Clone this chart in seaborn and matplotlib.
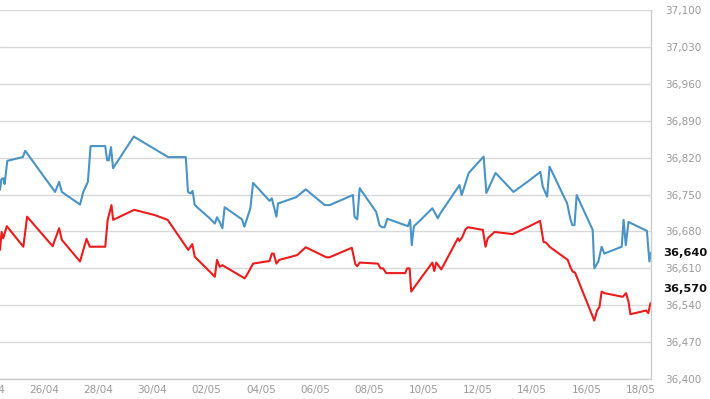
import pandas as pd
import matplotlib
matplotlib.use("Agg")
import matplotlib.pyplot as plt
import matplotlib.dates as mdates
from matplotlib.ticker import FuncFormatter
import seaborn as sns

# Data: time as days after 24/04 00:00, price values
blue_days = [0.38, 0.43, 0.50, 0.55, 0.65, 1.22, 1.31, 2.41, 2.56, 2.66, 3.33, 3.45, 3.62, 3.72,
             4.26, 4.33, 4.39, 4.47, 4.55, 5.31, 6.58, 7.23, 7.31, 7.41, 7.48, 7.56, 8.11, 8.30,
             8.38, 8.48, 8.58, 8.66, 9.30, 9.39, 9.61, 9.71, 10.32, 10.40, 10.57, 10.63, 11.30,
             11.65, 12.35, 12.53, 13.39, 13.45, 13.55, 13.64, 14.25, 14.37, 14.46, 14.56, 14.66,
             15.42, 15.50, 15.56, 15.64, 15.85, 16.32, 16.52, 16.61, 17.32, 17.40, 17.66, 18.21,
             18.31, 18.65, 19.31, 19.90, 20.30, 20.39, 20.55, 20.64, 21.29, 21.41, 21.48, 21.56,
             21.64, 22.23, 22.29, 22.44, 22.56, 22.66, 23.30, 23.37, 23.45, 23.55, 24.23, 24.32,
             24.38]
blue_vals = [36759, 36779, 36781, 36770, 36814, 36821, 36833, 36755, 36774, 36755, 36731, 36755,
             36774, 36842, 36842, 36815, 36815, 36840, 36800, 36860, 36821, 36821, 36755, 36752,
             36757, 36730, 36705, 36695, 36707, 36698, 36686, 36726, 36703, 36689, 36724, 36772,
             36738, 36743, 36708, 36733, 36745, 36760, 36730, 36730, 36749, 36708, 36703, 36762,
             36717, 36692, 36688, 36688, 36704, 36690, 36702, 36654, 36690, 36700, 36724, 36705,
             36714, 36768, 36749, 36791, 36822, 36753, 36791, 36755, 36777, 36793, 36765, 36746,
             36803, 36733, 36703, 36692, 36692, 36749, 36683, 36610, 36623, 36651, 36638, 36651,
             36702, 36654, 36698, 36681, 36623, 36640]

red_days = [0.38, 0.44, 0.50, 0.63, 1.24, 1.38, 2.32, 2.56, 2.66, 3.33, 3.57, 3.69, 4.26, 4.35,
            4.49, 4.55, 5.33, 6.09, 6.56, 7.32, 7.47, 7.56, 8.11, 8.30, 8.38, 8.48, 8.58, 9.40,
            9.52, 9.71, 10.32, 10.40, 10.47, 10.57, 10.67, 11.33, 11.65, 12.41, 12.53, 13.35,
            13.48, 13.55, 13.64, 14.31, 14.41, 14.50, 14.62, 15.32, 15.39, 15.48, 15.54, 15.85,
            16.32, 16.39, 16.46, 16.65, 17.26, 17.32, 17.42, 17.54, 17.63, 18.18, 18.28, 18.36,
            18.61, 19.28, 19.90, 20.29, 20.42, 20.51, 20.64, 21.31, 21.41, 21.49, 21.58, 22.29,
            22.39, 22.48, 22.56, 22.66, 23.34, 23.46, 23.55, 23.62, 24.20, 24.28, 24.36]
red_vals = [36645, 36679, 36667, 36690, 36651, 36708, 36652, 36686, 36664, 36623, 36666, 36651,
            36651, 36702, 36730, 36702, 36721, 36711, 36702, 36645, 36656, 36632, 36604, 36594,
            36626, 36613, 36616, 36591, 36601, 36619, 36624, 36638, 36638, 36619, 36626, 36635,
            36650, 36631, 36631, 36649, 36618, 36614, 36621, 36619, 36610, 36610, 36601, 36601,
            36610, 36610, 36566, 36588, 36621, 36605, 36621, 36608, 36667, 36662, 36669, 36684,
            36688, 36683, 36651, 36667, 36679, 36675, 36690, 36700, 36660, 36659, 36651, 36626,
            36612, 36604, 36602, 36511, 36530, 36537, 36566, 36563, 36556, 36563, 36547, 36523,
            36530, 36525, 36544]

y_ticks = list(range(36400, 37101, 70))
last_labels = [36640, 36570]
start = pd.Timestamp("2024-04-24")

blue = pd.DataFrame({"time": start + pd.to_timedelta(blue_days, unit="D"), "price": blue_vals})
red = pd.DataFrame({"time": start + pd.to_timedelta(red_days, unit="D"), "price": red_vals})

sns.set_style("white")
plt.rcParams["font.family"] = ["DejaVu Sans"]

fig = plt.figure(figsize=(7.1, 3.99), dpi=100)
ax = fig.add_axes([0.0, 0.05, 651 / 710, 369 / 399])

sns.lineplot(data=blue, x="time", y="price", color="#4a93c6", linewidth=1.5, sort=False, ax=ax)
sns.lineplot(data=red, x="time", y="price", color="#ec1c1c", linewidth=1.5, sort=False, ax=ax)

ax.set_xlim(start + pd.Timedelta(days=0.38), start + pd.Timedelta(days=24.38))
ax.set_ylim(36400, 37100)
ax.set_yticks(y_ticks)
ax.yaxis.tick_right()
ax.yaxis.set_major_formatter(FuncFormatter(lambda v, p: f"{int(v):,}"))
ax.xaxis.set_major_locator(mdates.DayLocator(interval=2))
ax.xaxis.set_major_formatter(mdates.DateFormatter("%d/%m"))
ax.set_xlabel("")
ax.set_ylabel("")
ax.grid(axis="y", color="#d9d9d9", linewidth=1)
ax.tick_params(axis="y", length=0, pad=10, labelsize=7.5, labelcolor="#9a9a9a")
ax.tick_params(axis="x", length=3, color="#cccccc", pad=1.5, labelsize=7.5, labelcolor="#9a9a9a")

for side in ["top", "left"]:
    ax.spines[side].set_visible(False)
for side in ["right", "bottom"]:
    ax.spines[side].set_color("#cccccc")
    ax.spines[side].set_linewidth(1)

# bold last-value labels on the right axis
for v in last_labels:
    ax.annotate(f"{v:,}", xy=(1.0, v), xycoords=("axes fraction", "data"),
                xytext=(8.5, 0), textcoords="offset points", ha="left", va="center",
                fontsize=8.2, fontweight="bold", color="#111111", annotation_clip=False)

# partly hidden first date label at the left edge
ax.annotate("24/04", xy=(start, 36400), xycoords="data", xytext=(0, -4.5),
            textcoords="offset points", ha="center", va="top", fontsize=7.5,
            color="#9a9a9a", annotation_clip=False)

fig.savefig("out.png", dpi=100)
